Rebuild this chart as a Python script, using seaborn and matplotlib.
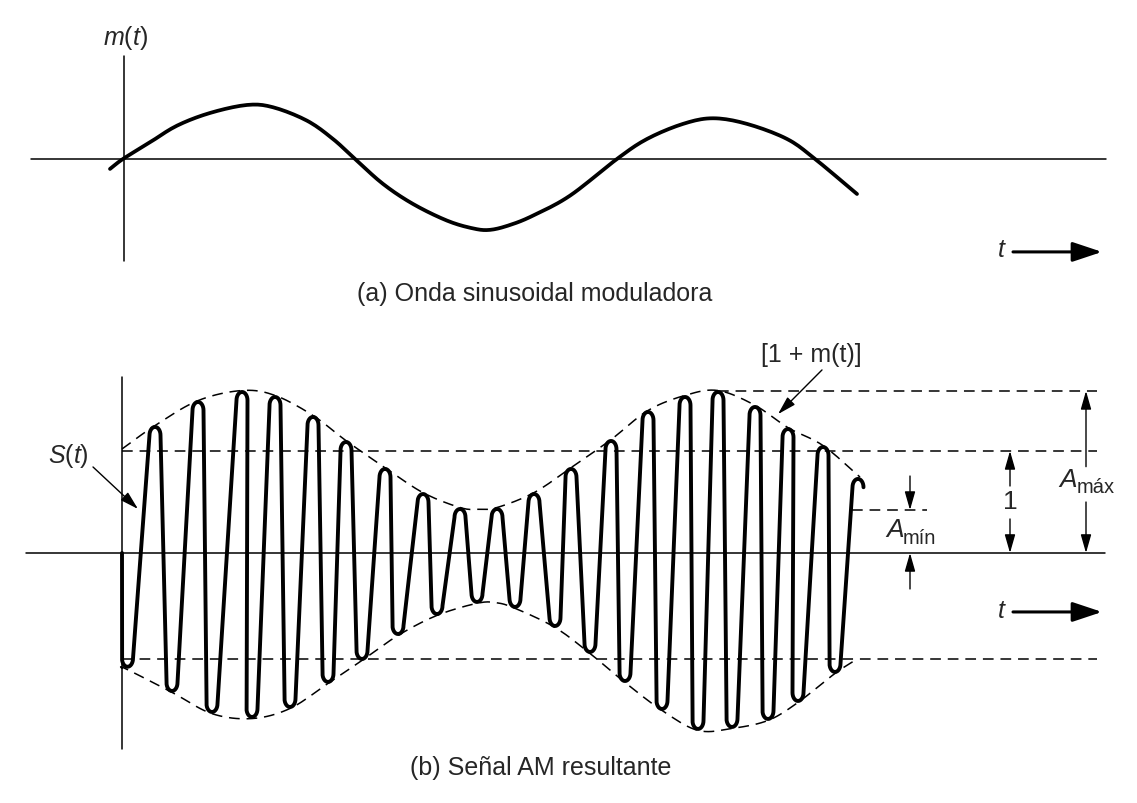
import numpy as np
import seaborn as sns
import matplotlib
matplotlib.use("Agg")
import matplotlib.pyplot as plt

# panel (a): modulating wave m(t)
mod_t = [-12, 1, 28, 55, 88, 125, 151, 185, 211, 233, 261, 291, 325, 351, 368,
         388, 411, 448, 495, 525, 561, 591, 625, 665, 693, 735]
mod_m = [-0.096, 0, 0.160, 0.320, 0.442, 0.519, 0.497, 0.368, 0.192, 0, -0.240,
         -0.433, -0.593, -0.668, -0.682, -0.635, -0.545, -0.353, 0, 0.192, 0.337,
         0.391, 0.337, 0.192, 0, -0.337]

# panel (b): carrier peaks / troughs (alternating)
peak_t = [5.5, 33, 50, 76, 90, 120, 130, 153, 168, 191, 206, 224, 240, 263, 276,
          301, 315, 338, 355, 375, 393, 412, 433, 449, 468, 489, 503, 526, 540,
          563, 576, 596, 610, 633, 646, 666, 676, 701, 713, 736]
peak_a = [-1.094, 1.212, -1.327, 1.452, -1.529, 1.548, -1.577, 1.500, -1.481,
          1.308, -1.240, 1.067, -1.019, 0.808, -0.779, 0.567, -0.587, 0.423,
          -0.471, 0.423, -0.519, 0.567, -0.702, 0.808, -0.952, 1.077, -1.231,
          1.356, -1.500, 1.500, -1.692, 1.548, -1.673, 1.404, -1.596, 1.192,
          -1.423, 1.019, -1.144, 0.712]

# envelope [1 + m(t)] (dashed), upper and lower
env_up_t = [0, 33, 76, 120, 153, 191, 224, 263, 301, 338, 356, 375, 412, 449,
            489, 526, 563, 596, 633, 666, 701, 738]
env_up_a = [1.0, 1.225, 1.465, 1.562, 1.515, 1.322, 1.08, 0.82, 0.58, 0.437,
            0.42, 0.437, 0.58, 0.82, 1.09, 1.37, 1.515, 1.562, 1.42, 1.205,
            1.033, 0.73]
env_lo_t = [0, 3, 50, 90, 130, 168, 206, 240, 276, 315, 355, 374, 393, 433,
            468, 503, 540, 576, 610, 646, 676, 713, 735]
env_lo_a = [-1.115, -1.11, -1.34, -1.545, -1.592, -1.495, -1.254, -1.033, -0.793,
            -0.6, -0.484, -0.478, -0.532, -0.716, -0.966, -1.245, -1.514, -1.706,
            -1.687, -1.61, -1.437, -1.158, -1.02]

a_max = 1.558
a_min = 0.413
unit_level = 0.981
low_level = -1.019

sns.set_style("white")
plt.rcParams["font.family"] = ["Liberation Sans", "DejaVu Sans"]
plt.rcParams["mathtext.fontset"] = "custom"
plt.rcParams["mathtext.rm"] = "Liberation Sans"
plt.rcParams["mathtext.it"] = "Liberation Sans:italic"
plt.rcParams["mathtext.bf"] = "Liberation Sans:bold"

FS = 18
fig = plt.figure(figsize=(11.37, 8.04), dpi=100)
ax_a = fig.add_axes([0, 0.5896, 1, 0.4104])
ax_b = fig.add_axes([0, 0, 1, 0.5896])
ax_a.set_xlim(-122, 1015)
ax_a.set_ylim(-1.635, 1.538)
ax_b.set_xlim(-122, 1015)
ax_b.set_ylim(-2.404, 2.154)
for ax in (ax_a, ax_b):
    ax.set_axis_off()
    ax.patch.set_alpha(0)


def arrow(ax, x0, y0, x1, y1, lw=1.0, style="-|>,head_length=0.7,head_width=0.2", ms=16):
    ax.annotate("", xy=(x1, y1), xytext=(x0, y0),
                arrowprops=dict(arrowstyle=style, color="black", lw=lw,
                                shrinkA=0, shrinkB=0, mutation_scale=ms))


def smooth(xs, ys, n=10):
    # catmull-rom curve through the read points, only for a smooth stroke
    p = np.column_stack([xs, ys]).astype(float)
    p = np.vstack([2 * p[0] - p[1], p, 2 * p[-1] - p[-2]])
    out = []
    s = np.linspace(0, 1, n, endpoint=False)[:, None]
    for i in range(1, len(p) - 2):
        p0, p1, p2, p3 = p[i - 1], p[i], p[i + 1], p[i + 2]
        out.append(0.5 * (2 * p1 + (-p0 + p2) * s
                          + (2 * p0 - 5 * p1 + 4 * p2 - p3) * s ** 2
                          + (-p0 + 3 * p1 - 3 * p2 + p3) * s ** 3))
    out.append(p[-2][None, :])
    out = np.vstack(out)
    return out[:, 0], out[:, 1]


def carrier_path(ts, amps, rx=5.5, ry=0.08):
    xs, ys = [0.0, 0.0], [0.0, amps[0] + ry]
    for t, a in zip(ts, amps):
        if a > 0:
            ang = np.linspace(np.pi, 0, 17)
            cy = a - ry
        else:
            ang = np.linspace(np.pi, 2 * np.pi, 17)
            cy = a + ry
        xs += list(t + rx * np.cos(ang))
        ys += list(cy + ry * np.sin(ang))
    return xs, ys


dash = (0, (7, 4.5))

# ---- panel (a)
ax_a.plot([-91, 984], [0, 0], color="black", lw=1.1)
ax_a.plot([2, 2], [-0.98, 0.99], color="black", lw=1.1)
mx, my = smooth(mod_t, mod_m)
sns.lineplot(x=mx, y=my, ax=ax_a, color="black", lw=2.7,
             sort=False, estimator=None)
ax_a.text(3, 1.173, r"$m(t)$", fontsize=FS, ha="center", va="center")
ax_a.text(880, -0.865, r"$t$", fontsize=FS, ha="center", va="center")
arrow(ax_a, 891, -0.894, 980, -0.894, lw=2.2,
      style="-|>,head_length=0.9,head_width=0.3", ms=20)
ax_a.text(413, (160 - 294) / 104, "(a) Onda sinusoidal moduladora",
          fontsize=FS, ha="center", va="center")

# ---- panel (b)
ax_b.plot([-96, 983], [0, 0], color="black", lw=1.1)
ax_b.plot([0, 0], [-1.885, 1.692], color="black", lw=1.1)

ax_b.plot([0, 975], [unit_level, unit_level], color="black", lw=1.1, linestyle=dash)
ax_b.plot([0, 975], [low_level, low_level], color="black", lw=1.1, linestyle=dash)
ax_b.plot([596, 975], [a_max, a_max], color="black", lw=1.1, linestyle=dash)
ax_b.plot([730, 805], [a_min, a_min], color="black", lw=1.1, linestyle=dash)

ux, uy = smooth(env_up_t, env_up_a)
lx, ly = smooth(env_lo_t, env_lo_a)
sns.lineplot(x=ux, y=uy, ax=ax_b, color="black", lw=1.1,
             linestyle=dash, sort=False, estimator=None)
sns.lineplot(x=lx, y=ly, ax=ax_b, color="black", lw=1.1,
             linestyle=dash, sort=False, estimator=None)

cx, cy = carrier_path(peak_t, peak_a)
sns.lineplot(x=cx, y=cy, ax=ax_b, color="black", lw=2.8,
             sort=False, estimator=None)

# labels and arrows
ax_b.text(-54, 0.942, r"$S(t)$", fontsize=FS, ha="center", va="center")
arrow(ax_b, -29, 0.827, 16, 0.423)
ax_b.text(689, 1.913, "[1 + m(t)]", fontsize=FS, ha="center", va="center")
arrow(ax_b, 700, 1.76, 656, 1.335)

# A_min
arrow(ax_b, 788, 0.740, 788, a_min)
arrow(ax_b, 788, -0.346, 788, 0)
ax_b.text(764, 0.163, "A", fontsize=FS + 1, style="italic", ha="left", va="baseline")
ax_b.text(781, 0.096, "mín", fontsize=14.5, ha="left", va="baseline")

# 1
arrow(ax_b, 888, 0.644, 888, unit_level)
arrow(ax_b, 888, 0.327, 888, 0)
ax_b.text(888, 0.5, "1", fontsize=FS + 1, ha="center", va="center")

# A_max
arrow(ax_b, 964, 0.83, 964, a_max)
arrow(ax_b, 964, 0.49, 964, 0)
ax_b.text(937, 0.644, "A", fontsize=FS + 1, style="italic", ha="left", va="baseline")
ax_b.text(955, 0.587, "máx", fontsize=14.5, ha="left", va="baseline")

ax_b.text(880, -0.548, r"$t$", fontsize=FS, ha="center", va="center")
arrow(ax_b, 891, -0.567, 980, -0.567, lw=2.2,
      style="-|>,head_length=0.9,head_width=0.3", ms=20)

ax_b.text(419, (554 - 768) / 104, "(b) Señal AM resultante",
          fontsize=FS, ha="center", va="center")

fig.savefig("out.png", dpi=100)
